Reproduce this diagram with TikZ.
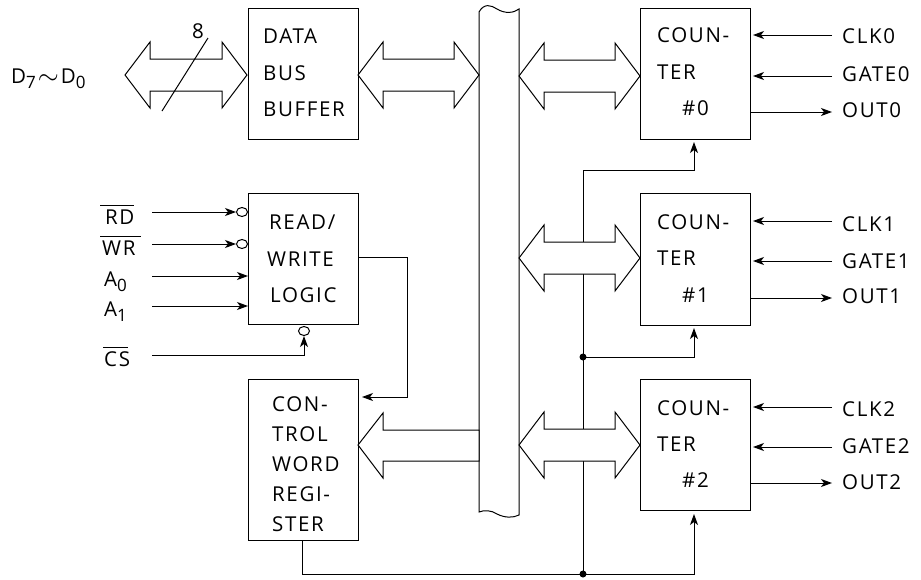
\documentclass[tikz,border=0pt]{standalone}
\usepackage{fontspec}
\setmainfont[LetterSpace=8]{Open Sans}
\usetikzlibrary{arrows.meta,shapes.geometric}
\tikzset{
  x=1pt,y=-1pt,
  blockbox/.style={draw,line width=1pt,minimum width=110pt,anchor=north west,inner sep=0pt},
  lbl/.style={font=\fontsize{20.5}{20.5}\selectfont,anchor=base west,inner sep=0pt},
  wire/.style={line width=1pt},
  sig/.style={wire,-{Stealth[length=11pt,width=8pt,inset=3pt]}},
  fat/.style={draw,line width=1pt,fill=white,line join=miter},
  dotn/.style={circle,fill=black,inner sep=0pt,minimum size=7pt},
  bub/.style={ellipse,draw,line width=1pt,fill=white,inner sep=0pt,minimum width=11pt,minimum height=9pt},
}
\newcommand{\fatboth}[3]{% x-left, x-right, y-center
  \draw[fat] (#1,#3) -- (#1+25,#3-33) -- (#1+25,#3-16) -- (#2-25,#3-16) -- (#2-25,#3-33) -- (#2,#3)
    -- (#2-25,#3+33) -- (#2-25,#3+16) -- (#1+25,#3+16) -- (#1+25,#3+33) -- cycle;}
\newcommand{\sbs}[1]{\raisebox{-5pt}{\fontsize{17}{17}\selectfont #1}}
\begin{document}
\begin{tikzpicture}
\useasboundingbox (0,0) rectangle (921,579);
% boxes
\node[blockbox,minimum height=131pt] (dbb) at (248,8) {};
\node[blockbox,minimum height=131pt] (rwl) at (248,193) {};
\node[blockbox,minimum height=161pt] (cwr) at (248,379) {};
\node[blockbox,minimum height=131pt] (c0) at (640,8) {};
\node[blockbox,minimum height=132pt] (c1) at (640,193) {};
\node[blockbox,minimum height=131pt] (c2) at (640,379) {};
% box text
\node[lbl] (t1) at (263,43) {DATA};
\node[lbl] (t2) at (263,80) {BUS};
\node[lbl] (t3) at (263,116) {BUFFER};
\node[lbl] (t4) at (269,229) {READ/};
\node[lbl] (t5) at (267,266) {WRITE};
\node[lbl] (t6) at (270,302) {LOGIC};
\node[lbl] (t7) at (272,411) {CON-};
\node[lbl] (t8) at (272,441) {TROL};
\node[lbl] (t9) at (272,471) {WORD};
\node[lbl] (t10) at (272,501) {REGI-};
\node[lbl] (t11) at (272,531) {STER};
\foreach \n/\ya/\yb/\yc in {0/42/79/115,1/229/265/302,2/415/451/487}{
  \node[lbl] (ca\n) at (657,\ya) {COUN-};
  \node[lbl] (cb\n) at (657,\yb) {TER};
  \node[lbl] (cc\n) at (682,\yc) {\#\n};
}
% internal bus
\draw[fat] (479,12) .. controls (484,3) and (491,5) .. (497,9) .. controls (505,14) and (514,13) .. (519,9)
  -- (519,515) .. controls (513,518) and (505,518) .. (497,514) .. controls (491,510) and (484,510) .. (479,512) -- cycle;
% control lines
\coordinate (j1) at (583,357);
\coordinate (j2) at (583,574);
\draw[wire] (302,540) -- (302,574) -- (j2);
\draw[sig] (j2) -- (694,574) -- (694,514);
\draw[wire] (j2) -- (583,170);
\draw[sig] (583,170) -- (694,170) -- (694,142);
\draw[sig] (j1) -- (694,357) -- (694,328);
\node[dotn] (d1) at (j1) {};
\node[dotn] (d2) at (j2) {};
% fat arrows
\fatboth{125}{247}{75}
\fatboth{358}{479}{75}
\fatboth{519}{640}{76}
\fatboth{519}{640}{258}
\fatboth{519}{640}{445}
\draw[fat] (358,445) -- (383,413) -- (383,430) -- (479,430) -- (479,461) -- (383,461) -- (383,478) -- cycle;
\draw[line width=1pt] (162,111) -- (208,38);
\node[lbl] (eight) at (192,38) {8};
\node[lbl] (d7) at (11,83) {D\sbs{7}\kern2pt\raisebox{-1pt}{\scalebox{1.3}{$\sim$}}\kern2pt D\sbs{0}};
% left signals
\node[lbl] (rd) at (105,224) {RD};
\node[lbl] (wr) at (102,255) {WR};
\draw[line width=1pt] (100,205) -- (134,205) (100,236) -- (141,236);
\node[lbl] (a0) at (104,286) {A\sbs{0}};
\node[lbl] (a1) at (104,316) {A\sbs{1}};
\node[lbl] (cs) at (104,366) {CS};
\draw[line width=1pt] (103,347) -- (128,347);
\node[bub] (b1) at (242,212) {};
\node[bub] (b2) at (242,244) {};
\node[bub] (b3) at (304,331) {};
\coordinate (rdin) at (152,212);
\coordinate (wrin) at (152,244);
\coordinate (a0in) at (152,276);
\coordinate (a1in) at (152,306);
\coordinate (csin) at (152,355);
\draw[sig] (rdin) -- (b1);
\draw[sig] (wrin) -- (b2);
\draw[sig] (a0in) -- (a0in -| rwl.west);
\draw[sig] (a1in) -- (a1in -| rwl.west);
\draw[sig] (csin) -- (304,355) -- (b3);
% rwl to cwr
\draw[sig] (358,257) -- (407,257) -- (407,397) -- (362,397);
% right signals
\foreach \n/\ya/\yb/\yc/\ba/\bb/\bc in {0/35/76/112/43/81/117,1/221/261/298/231/268/303,2/407/447/483/416/453/489}{
  \node[lbl] (clk\n) at (842,\ba) {CLK\n};
  \node[lbl] (gate\n) at (842,\bb) {GATE\n};
  \node[lbl] (out\n) at (842,\bc) {OUT\n};
  \draw[sig] (832,\ya) -- (753,\ya);
  \draw[sig] (832,\yb) -- (753,\yb);
  \draw[sig] (750,\yc) -- (832,\yc);
}
\end{tikzpicture}
\end{document}
